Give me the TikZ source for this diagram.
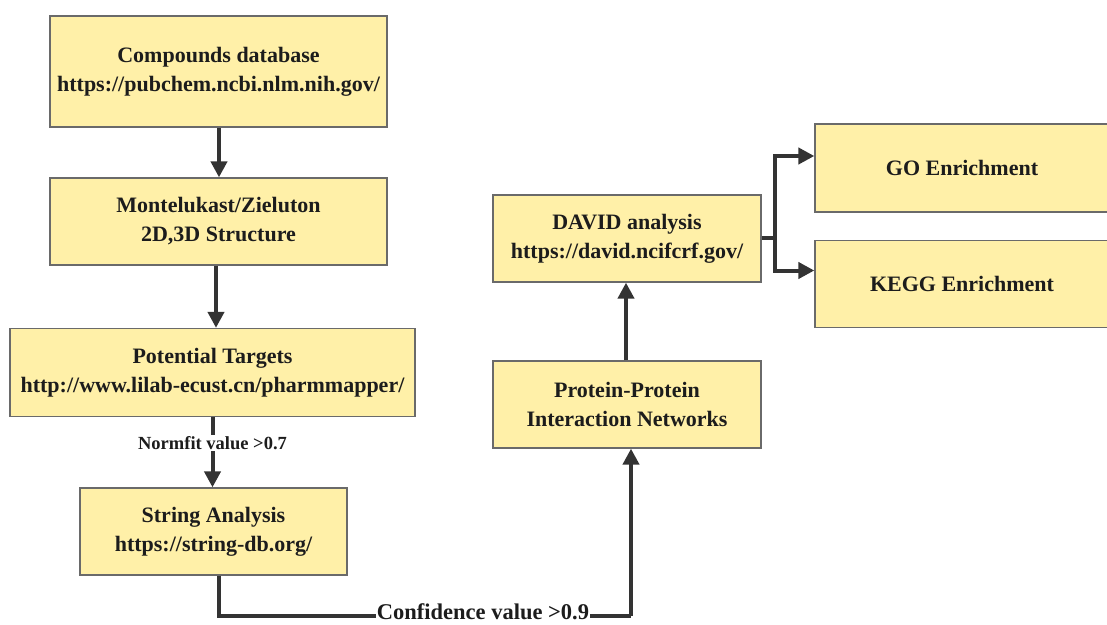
\documentclass[tikz,border=0pt]{standalone}
\usepackage{fontspec}
\setmainfont{Liberation Serif}
\usetikzlibrary{arrows.meta,calc}
\definecolor{boxfill}{HTML}{FFF0A8}
\definecolor{boxline}{HTML}{6A6A6A}
\definecolor{conn}{HTML}{333333}
\definecolor{txt}{HTML}{1C1C1C}
\tikzset{
  box/.style={draw=boxline, line width=1.3pt, fill=boxfill, rectangle, inner sep=0pt,
    align=center, text=txt, font=\fontsize{22}{29}\selectfont\bfseries},
  conn/.style={draw=conn, line width=4pt, -{Triangle[length=16pt,width=16pt]}},
  plain/.style={draw=conn, line width=4pt},
  lbl/.style={fill=white, inner sep=1pt, text=txt, font=\bfseries}
}
\begin{document}
\begin{tikzpicture}[x=1pt,y=-1pt]
\useasboundingbox (0,0) rectangle (1107,624);
\node[box, minimum width=337pt, minimum height=111pt] (b1) at (218.5,71.5) {Compounds database\\https://pubchem.ncbi.nlm.nih.gov/};
\node[box, minimum width=337pt, minimum height=87pt] (b2) at (218.5,221.5) {Montelukast/Zieluton\\2D,3D Structure};
\node[box, minimum width=405pt, minimum height=88pt] (b3) at (212.5,372.5) {Potential Targets\\http://www.lilab-ecust.cn/pharmmapper/};
\node[box, minimum width=267pt, minimum height=87pt] (b4) at (213.5,531.5) {String Analysis\\https://string-db.org/};
\node[box, minimum width=268pt, minimum height=87pt] (ppi) at (627,404.5) {Protein-Protein\\Interaction Networks};
\node[box, minimum width=268pt, minimum height=87pt] (david) at (627,238.5) {DAVID analysis\\https://david.ncifcrf.gov/};
\node[box, minimum width=294pt, minimum height=88pt] (go) at (962,168) {GO Enrichment};
\node[box, minimum width=294pt, minimum height=87pt] (kegg) at (962,284) {KEGG Enrichment};

\draw[conn] ([xshift=0.5pt]b1.south) -- ([xshift=0.5pt]b1.south |- b2.north);
\draw[conn] ([xshift=-2.5pt]b2.south) -- ([xshift=-2.5pt]b2.south |- b3.north);
\draw[conn] (b3.south) -- (b3.south |- b4.north)
  node[lbl, pos=0.37, font=\fontsize{18.5}{21}\selectfont\bfseries] (nf) {Normfit value >0.7};
\coordinate (c1) at ([xshift=5.5pt]b4.south |- 0,616);
\coordinate (c2) at ([xshift=4pt]ppi.south |- 0,616);
\draw[plain] ([xshift=5.5pt]b4.south) -- (c1) -- (c2);
\draw[conn] (c2) -- ([xshift=4pt]ppi.south);
\node[lbl, inner ysep=0pt, font=\fontsize{22.5}{24}\selectfont\bfseries, anchor=base] (cv) at (483,619) {Confidence value >0.9};
\draw[conn] ([xshift=-1pt]ppi.north) -- ([xshift=-1pt]david.south);
\coordinate (j) at (775,238);
\draw[plain] (david.east |- j) -- (j);
\draw[conn] (j) |- ([yshift=12pt]go.west);
\draw[conn] (j) |- ([yshift=13.5pt]kegg.west);
\end{tikzpicture}
\end{document}
